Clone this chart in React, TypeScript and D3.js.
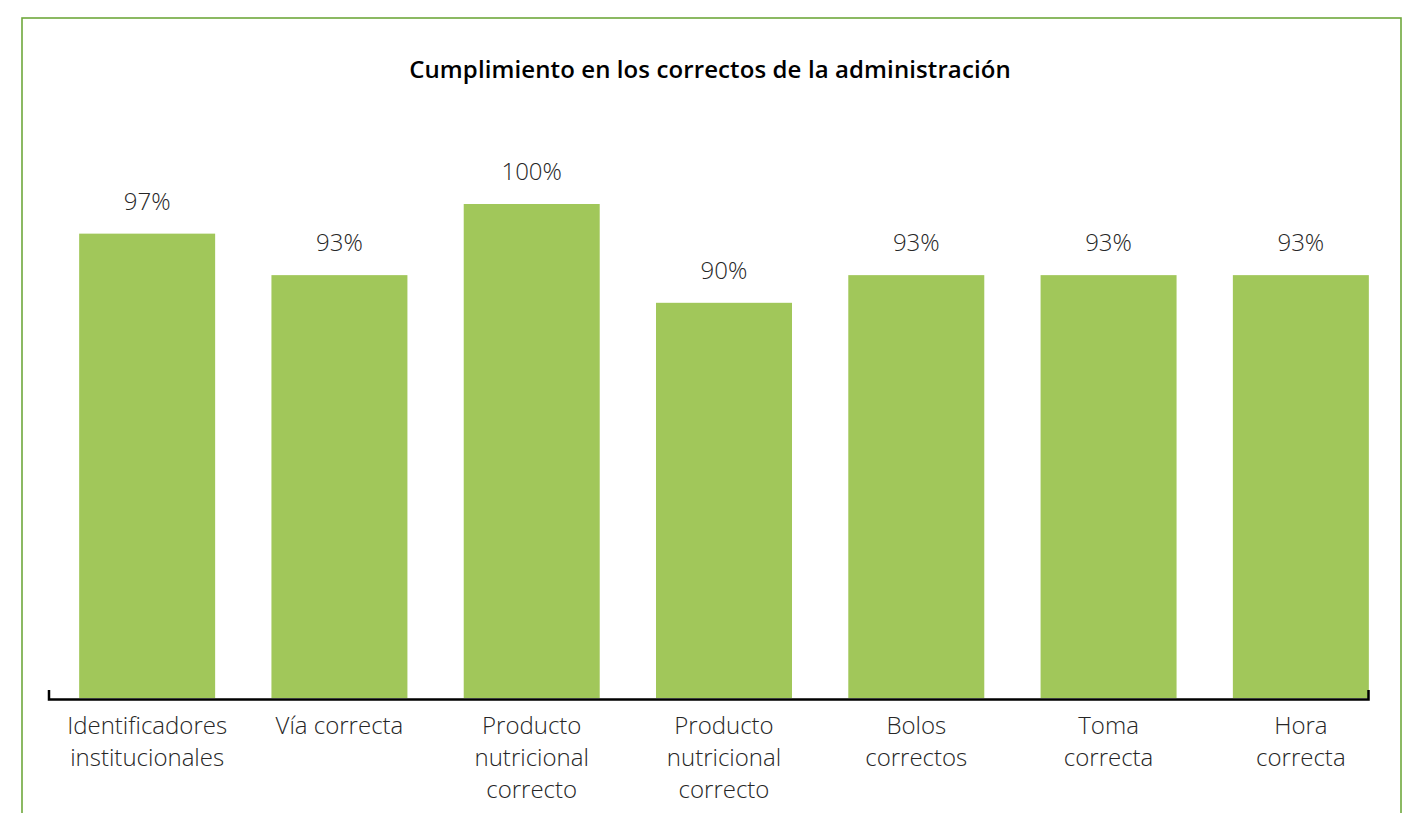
import React from "react";
import * as d3 from "d3";

const categories: string[][] = [
  ["Identificadores", "institucionales"],
  ["Vía correcta"],
  ["Producto", "nutricional", "correcto"],
  ["Producto", "nutricional", "correcto"],
  ["Bolos", "correctos"],
  ["Toma", "correcta"],
  ["Hora", "correcta"],
];
const values: number[] = [97, 92.8, 100, 90, 92.8, 92.8, 92.8];
const title = "Cumplimiento en los correctos de la administración";

const W = 1419;
const H = 813;
const baseY = 698;
const topY = 204;

export default function App() {
  const ids = categories.map((_, i) => String(i));
  const x = d3
    .scaleBand<string>()
    .domain(ids)
    .range([51, 1397])
    .paddingInner(0.2928)
    .paddingOuter(0.1464);
  const y = d3.scaleLinear().domain([50, 100]).range([baseY, topY]);
  const fmt = (v: number) => `${Math.round(v)}%`;
  const font = "'Open Sans', 'Noto Sans', sans-serif";

  return (
    <svg
      width={W}
      height={H}
      style={{ position: "absolute", left: 0, top: 0, background: "#fff" }}
    >
      <rect
        x={22}
        y={18}
        width={1379}
        height={830}
        fill="#fff"
        stroke="#6FA83C"
        strokeWidth={1.6}
      />
      <text
        x={710}
        y={78}
        textAnchor="middle"
        fontFamily={font}
        fontWeight={600}
        fontSize={24}
        letterSpacing={0.1}
        fill="#000"
      >
        {title}
      </text>
      {values.map((v, i) => {
        const bx = x(String(i))!;
        const bw = x.bandwidth();
        return (
          <g key={i}>
            <rect x={bx} y={y(v)} width={bw} height={baseY - y(v)} fill="#A1C75A" />
            <text
              x={bx + bw / 2}
              y={y(v) - 24}
              textAnchor="middle"
              fontFamily={font}
              fontWeight={300}
              fontSize={24}
              fill="#262626"
            >
              {fmt(v)}
            </text>
            {categories[i].map((line, j) => (
              <text
                key={j}
                x={bx + bw / 2}
                y={734 + j * 32}
                textAnchor="middle"
                fontFamily={font}
                fontWeight={300}
                fontSize={24}
                fill="#262626"
              >
                {line}
              </text>
            ))}
          </g>
        );
      })}
      <path
        d={`M49,690 V699.5 H1368.5 V690`}
        fill="none"
        stroke="#000"
        strokeWidth={2.5}
      />
    </svg>
  );
}
